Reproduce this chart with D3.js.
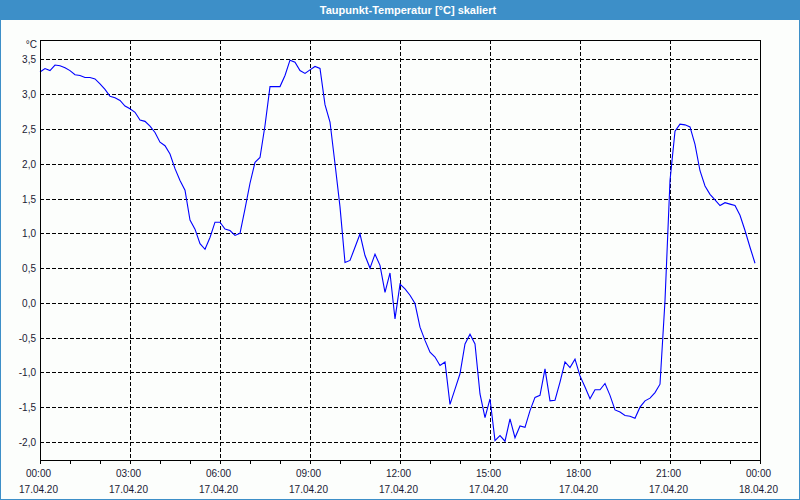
<!DOCTYPE html>
<html><head><meta charset="utf-8">
<script src="https://cdn.jsdelivr.net/npm/d3@7"></script>
<style>
html,body{margin:0;padding:0;background:#fcfefc;}
svg{display:block;}
text{font-family:"Liberation Sans",Arial,sans-serif;}
</style></head>
<body>
<svg id="c" width="800" height="500"></svg>
<script>
const title = "Taupunkt-Temperatur [°C] skaliert";
const unitLabel = "°C";
const startTime = "2020-04-17T00:00:00";
const endTime = "2020-04-18T00:00:00";
const stepMinutes = 10;
const yTicks = [-2.0, -1.5, -1.0, -0.5, 0.0, 0.5, 1.0, 1.5, 2.0, 2.5, 3.0, 3.5];
const values = [
 3.32,3.37,3.34,3.42,3.41,3.38,3.34,3.28,3.27,3.24,
 3.24,3.22,3.15,3.07,2.97,2.95,2.91,2.83,2.79,2.74,
 2.63,2.61,2.54,2.45,2.31,2.26,2.14,1.93,1.76,1.62,
 1.19,1.06,0.85,0.77,0.94,1.16,1.16,1.06,1.04,0.97,
 1.00,1.35,1.72,2.02,2.09,2.55,3.11,3.11,3.11,3.27,
 3.49,3.46,3.34,3.30,3.35,3.40,3.37,2.85,2.60,2.00,
 1.38,0.58,0.61,0.80,0.99,0.68,0.50,0.70,0.54,0.15,
 0.43,-0.23,0.27,0.20,0.11,-0.01,-0.35,-0.54,-0.71,-0.78,
 -0.90,-0.85,-1.46,-1.24,-1.02,-0.59,-0.45,-0.59,-1.31,-1.65,
 -1.38,-1.98,-1.91,-1.99,-1.67,-1.94,-1.77,-1.79,-1.55,-1.36,
 -1.33,-0.95,-1.41,-1.40,-1.14,-0.85,-0.93,-0.81,-1.05,-1.21,
 -1.38,-1.25,-1.25,-1.16,-1.33,-1.54,-1.57,-1.62,-1.63,-1.66,
 -1.50,-1.41,-1.37,-1.29,-1.17,0.03,1.76,2.47,2.57,2.56,
 2.53,2.28,1.90,1.68,1.56,1.48,1.40,1.44,1.42,1.40,
 1.26,1.04,0.80,0.57
];

const W = 800, H = 500;
const L = 40, R = 760, T = 40, B = 460;
const barColor = "#3d8fc8";
const textColor = "#1a1a33";
const svg = d3.select("#c");

const t0 = new Date(startTime), t1 = new Date(endTime);
const data = values.map((v,i)=>({t: d3.timeMinute.offset(t0, i*stepMinutes), v}));

const x = d3.scaleTime().domain([t0, t1]).range([L, R]);
const y = d3.scaleLinear().domain([-2.26, 3.78]).range([B, T]);
const px = v => Math.round(v) + 0.5;

// background
svg.append("rect").attr("width", W).attr("height", H).attr("fill", "#fcfefc");
// title bar
svg.append("rect").attr("x",0).attr("y",0).attr("width",W).attr("height",20).attr("fill",barColor);
svg.append("text").attr("x", 408).attr("y", 14).attr("text-anchor","middle")
  .attr("fill","#fff").attr("font-size","11px").attr("font-weight","bold").text(title);
// outer border
svg.append("rect").attr("x",0.5).attr("y",0.5).attr("width",W-1).attr("height",H-1)
  .attr("fill","none").attr("stroke",barColor);

const g = svg.append("g");

// horizontal grid
g.selectAll("line.hg").data(yTicks).join("line")
  .attr("x1", L).attr("x2", R).attr("y1", d=>px(y(d))).attr("y2", d=>px(y(d)))
  .attr("stroke","#000").attr("stroke-dasharray","4,2").attr("shape-rendering","crispEdges");

// vertical grid (every 3 h)
const majors = d3.timeHour.every(3).range(t0, d3.timeMinute.offset(t1,1));
g.selectAll("line.vg").data(majors.filter(d=>+d!==+t0 && +d!==+t1)).join("line")
  .attr("x1", d=>px(x(d))).attr("x2", d=>px(x(d))).attr("y1", T).attr("y2", B)
  .attr("stroke","#000").attr("stroke-dasharray","4,2").attr("shape-rendering","crispEdges");

// line
const line = d3.line().x(d=>x(d.t)).y(d=>y(d.v));
g.append("path").datum(data).attr("d", line).attr("fill","none")
  .attr("stroke","#0000ff").attr("stroke-width",1.1);

// frame
g.append("rect").attr("x", L+0.5).attr("y", T+0.5).attr("width", R-L).attr("height", B-T)
  .attr("fill","none").attr("stroke","#000").attr("shape-rendering","crispEdges");

// x ticks (hourly)
const hours = d3.timeHour.every(1).range(t0, d3.timeMinute.offset(t1,1));
g.selectAll("line.xt").data(hours).join("line")
  .attr("x1", d=>px(x(d))).attr("x2", d=>px(x(d))).attr("y1", B).attr("y2", B+4)
  .attr("stroke","#000").attr("shape-rendering","crispEdges");

const fTime = d3.timeFormat("%H:%M"), fDate = d3.timeFormat("%d.%m.%y");
const xl = g.selectAll("g.xl").data(majors).join("g").attr("transform", d=>`translate(${x(d)-1.5},0)`);
xl.append("text").attr("y", 477).attr("text-anchor","middle").attr("font-size","10px").attr("fill",textColor).text(fTime);
xl.append("text").attr("y", 493).attr("text-anchor","middle").attr("font-size","10px").attr("fill",textColor).text(fDate);

// y labels
const fy = d => d3.format(".1f")(d).replace(".", ",").replace("−","-");
g.selectAll("text.yl").data(yTicks).join("text")
  .attr("x", 36).attr("y", d=>px(y(d))+3.5).attr("text-anchor","end")
  .attr("font-size","10px").attr("fill",textColor).text(fy);

svg.append("text").attr("x", 37).attr("y", 48).attr("text-anchor","end")
  .attr("font-size","10px").attr("fill",textColor).text(unitLabel);
</script>
</body></html>
